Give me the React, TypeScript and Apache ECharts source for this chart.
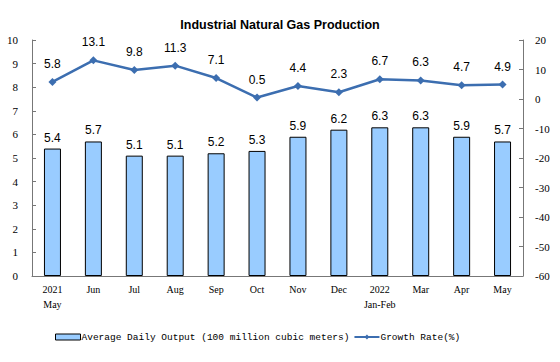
import React, { useEffect, useRef } from "react";
import * as echarts from "echarts";

const categories = ["2021\nMay", "Jun", "Jul", "Aug", "Sep", "Oct", "Nov", "Dec", "2022\nJan-Feb", "Mar", "Apr", "May"];
const dailyOutput = [5.4, 5.7, 5.1, 5.1, 5.2, 5.3, 5.9, 6.2, 6.3, 6.3, 5.9, 5.7];
const growthRate = [5.8, 13.1, 9.8, 11.3, 7.1, 0.5, 4.4, 2.3, 6.7, 6.3, 4.7, 4.9];

export default function App() {
  const ref = useRef<HTMLDivElement>(null);
  useEffect(() => {
    if (!ref.current) return;
    const chart = echarts.init(ref.current, undefined, { renderer: "svg" });
    const axisLabelFont = { fontFamily: "Liberation Serif", fontSize: 11, color: "#000" };
    chart.setOption({
      animation: false,
      backgroundColor: "#fff",
      title: {
        text: "Industrial Natural Gas Production",
        left: "center",
        top: 13,
        textStyle: { fontFamily: "Liberation Sans", fontWeight: "bold", fontSize: 12.5, color: "#000" },
      },
      grid: { left: 32, right: 37, top: 40, bottom: 86 },
      legend: {
        left: 50,
        top: 327,
        itemGap: 4,
        itemWidth: 25,
        itemHeight: 6,
        textStyle: { fontFamily: "Liberation Mono", fontSize: 9.5, color: "#000", padding: [0, 0, 0, -4] },
        data: [
          { name: "Average Daily Output (100 million cubic meters)", icon: "rect", itemStyle: { color: "#99ccff", borderColor: "#000", borderWidth: 1 } },
          { name: "Growth Rate(%)" },
        ],
      },
      xAxis: {
        type: "category",
        data: categories,
        axisLine: { lineStyle: { color: "#777" } },
        axisTick: { inside: true, length: 4, lineStyle: { color: "#777" } },
        axisLabel: { ...axisLabelFont, fontSize: 10, lineHeight: 15, margin: 6, interval: 0 },
      },
      yAxis: [
        {
          type: "value",
          min: 0,
          max: 10,
          interval: 1,
          splitLine: { show: false },
          axisLine: { show: true, lineStyle: { color: "#777" } },
          axisTick: { show: true, inside: true, length: 4, lineStyle: { color: "#777" } },
          axisLabel: { ...axisLabelFont, margin: 14 },
        },
        {
          type: "value",
          min: -60,
          max: 20,
          interval: 10,
          splitLine: { show: false },
          axisLine: { show: true, lineStyle: { color: "#777" } },
          axisTick: { show: true, inside: true, length: 4, lineStyle: { color: "#777" } },
          axisLabel: { ...axisLabelFont, margin: 12 },
        },
      ],
      series: [
        {
          name: "Average Daily Output (100 million cubic meters)",
          type: "bar",
          data: dailyOutput,
          barWidth: 17,
          itemStyle: { color: "#99ccff", borderColor: "#000", borderWidth: 1 },
          label: { show: true, position: "top", distance: 5, fontFamily: "Liberation Sans", fontSize: 12, color: "#000" },
        },
        {
          name: "Growth Rate(%)",
          type: "line",
          yAxisIndex: 1,
          data: growthRate,
          symbol: "diamond",
          symbolSize: 8,
          lineStyle: { color: "#3c6eb0", width: 2.5 },
          itemStyle: { color: "#3c6eb0" },
          label: { show: true, position: "top", distance: 8, fontFamily: "Liberation Sans", fontSize: 12, color: "#000" },
        },
      ],
    });
    return () => chart.dispose();
  }, []);
  return <div ref={ref} style={{ width: 560, height: 362, position: "absolute", left: 0, top: 0 }} />;
}
